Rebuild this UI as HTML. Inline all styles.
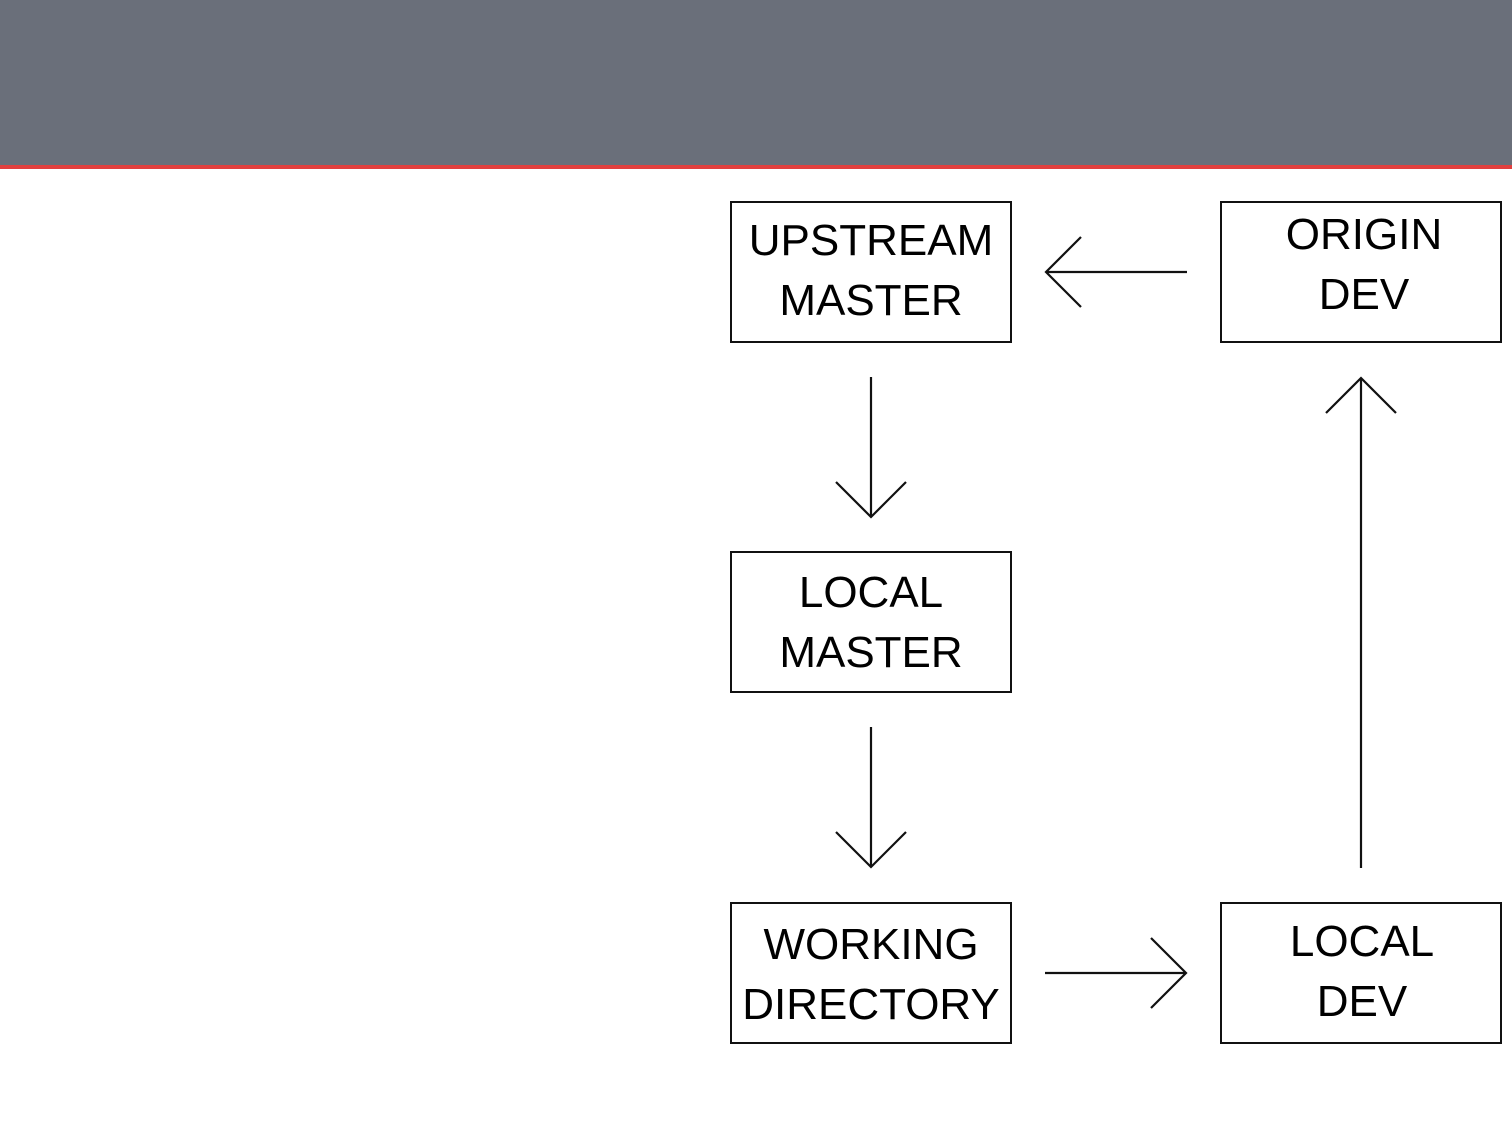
<!DOCTYPE html>
<html><head><style>
html,body{margin:0;padding:0;background:#fff;}
body{width:1512px;height:1124px;position:relative;overflow:hidden;font-family:"Liberation Sans",sans-serif;}
.hdr{position:absolute;left:0;top:0;width:1512px;height:165px;background:#6a6f7a;}
.red{position:absolute;left:0;top:165px;width:1512px;height:4px;background:#e2403f;}
.box{position:absolute;border:2px solid #111;box-sizing:border-box;width:282px;height:142px;text-align:center;font-size:44px;line-height:60px;color:#000;padding-top:8px;}
</style></head><body>
<div class="hdr"></div><div class="red"></div>
<div class="box" style="left:730px;top:201px">UPSTREAM<br>MASTER</div>
<div class="box" style="left:1220px;top:201px;padding-left:6px;padding-top:2px">ORIGIN<br>DEV</div>
<div class="box" style="left:730px;top:551px;padding-top:10px">LOCAL<br>MASTER</div>
<div class="box" style="left:730px;top:902px;padding-top:11px">WORKING<br>DIRECTORY</div>
<div class="box" style="left:1220px;top:902px;padding-top:8px;padding-left:2px">LOCAL<br>DEV</div>
<svg width="1512" height="1124" style="position:absolute;left:0;top:0" fill="none" stroke="#111" stroke-width="2.2">
<path d="M1187 272H1046M1081 237L1046 272L1081 307"/>
<path d="M871 377V517M836 482L871 517L906 482"/>
<path d="M871 727V867M836 832L871 867L906 832"/>
<path d="M1045 973H1186M1151 938L1186 973L1151 1008"/>
<path d="M1361 868V378M1326 413L1361 378L1396 413"/>
</svg>
</body></html>
